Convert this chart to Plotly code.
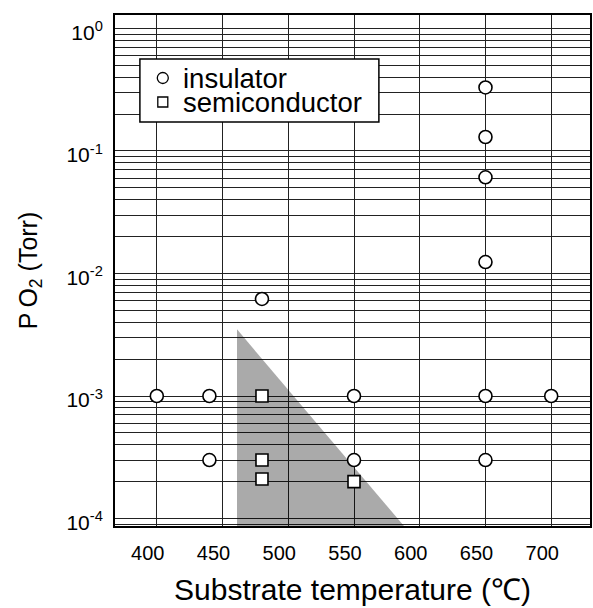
import numpy as np
import plotly.graph_objects as go

# ---- data ----
ins_x = [400, 440, 440, 480, 550, 550, 650, 650, 650, 650, 650, 650, 700]
ins_y = [1e-3, 1e-3, 3e-4, 6.2e-3, 1e-3, 3e-4, 0.33, 0.13, 0.061, 0.0124, 1e-3, 3e-4, 1e-3]
semi_x = [480, 480, 480, 550]
semi_y = [1e-3, 3e-4, 2.1e-4, 2.0e-4]
names = ["insulator", "semiconductor"]

# shaded (semiconducting) region vertices
region_x = [461, 461, 588, 461]
region_y = [3.5e-3, 8.69e-5, 8.69e-5, 3.5e-3]

x_range = [368.2, 729.5]
y_range_log = [-4.061, 0.11]
x_ticks = [400, 450, 500, 550, 600, 650, 700]

FONT = "Liberation Sans, Arial, Helvetica, sans-serif"

# y gridlines at 1..9 x each decade, labels on decades only
y_tickvals, y_ticktext = [], []
for n in range(-5, 1):
    for k in range(1, 10):
        v = k * 10.0 ** n
        lv = np.log10(v)
        if y_range_log[0] <= lv <= y_range_log[1]:
            y_tickvals.append(v)
            y_ticktext.append(f"10<sup>{n}</sup>" if k == 1 else "")

fig = go.Figure()

# gray region: translucent black so gridlines remain visible through it
fig.add_trace(go.Scatter(
    x=region_x, y=region_y, mode="lines", fill="toself",
    fillcolor="rgba(0,0,0,0.335)", line=dict(width=0),
    hoverinfo="skip", showlegend=False,
))
fig.add_trace(go.Scatter(
    x=ins_x, y=ins_y, mode="markers", name=names[0], showlegend=False,
    marker=dict(symbol="circle", size=13, color="white",
                line=dict(color="black", width=1.6)),
))
fig.add_trace(go.Scatter(
    x=semi_x, y=semi_y, mode="markers", name=names[1], showlegend=False,
    marker=dict(symbol="square", size=12, color="white",
                line=dict(color="black", width=1.6)),
))

# legend box (manual)
L, R, T, B = 115, 592, 15, 526
W, H = R - L, B - T
def px(x): return (x - L) / W
def py(y): return 1 - (y - T) / H

shapes = []
shapes.append(dict(type="rect", xref="paper", yref="paper",
                   x0=px(140), x1=px(380), y0=py(122), y1=py(59),
                   fillcolor="white", line=dict(color="black", width=1.5),
                   layer="above"))
shapes.append(dict(type="circle", xref="paper", yref="paper",
                   xsizemode="pixel", ysizemode="pixel",
                   xanchor=px(163), yanchor=py(78),
                   x0=-5.5, x1=5.5, y0=-5.5, y1=5.5,
                   line=dict(color="black", width=1.3), fillcolor="white"))
shapes.append(dict(type="rect", xref="paper", yref="paper",
                   xsizemode="pixel", ysizemode="pixel",
                   xanchor=px(163), yanchor=py(102),
                   x0=-5, x1=5, y0=-5, y1=5,
                   line=dict(color="black", width=1.3), fillcolor="white"))

annotations = [
    dict(text=names[0], xref="paper", yref="paper", x=px(181), y=py(78),
         xanchor="left", yanchor="middle", showarrow=False,
         font=dict(family=FONT, size=27.5, color="black")),
    dict(text=names[1], xref="paper", yref="paper", x=px(181), y=py(102),
         xanchor="left", yanchor="middle", showarrow=False,
         font=dict(family=FONT, size=27.5, color="black")),
]

fig.update_layout(
    width=593, height=608,
    margin=dict(l=L, r=593 - R, t=T, b=608 - B),
    paper_bgcolor="white", plot_bgcolor="white",
    font=dict(family=FONT, color="black"),
    shapes=shapes, annotations=annotations,
    showlegend=False,
    xaxis=dict(
        range=x_range, tickvals=x_ticks, ticks="",
        showgrid=True, gridcolor="#222", gridwidth=1,
        showline=True, mirror=True, linecolor="black", linewidth=2,
        zeroline=False,
        tickfont=dict(family=FONT, size=20, color="black"),
        ticklabelshift=-9, ticklabelstandoff=8,
        title=dict(text="Substrate temperature (℃)",
                   font=dict(family=FONT, size=30, color="black"), standoff=16),
    ),
    yaxis=dict(
        type="log", range=y_range_log,
        tickvals=y_tickvals, ticktext=y_ticktext, ticks="",
        showgrid=True, gridcolor="#222", gridwidth=1,
        showline=True, mirror=True, linecolor="black", linewidth=2,
        zeroline=False,
        tickfont=dict(family=FONT, size=21, color="black"),
        ticklabelshift=4, ticklabelstandoff=6,
        title=dict(text="P\u2009O<sub>2</sub> (Torr)",
                   font=dict(family=FONT, size=25, color="black"), standoff=22),
    ),
)

fig.write_html("out.html")
